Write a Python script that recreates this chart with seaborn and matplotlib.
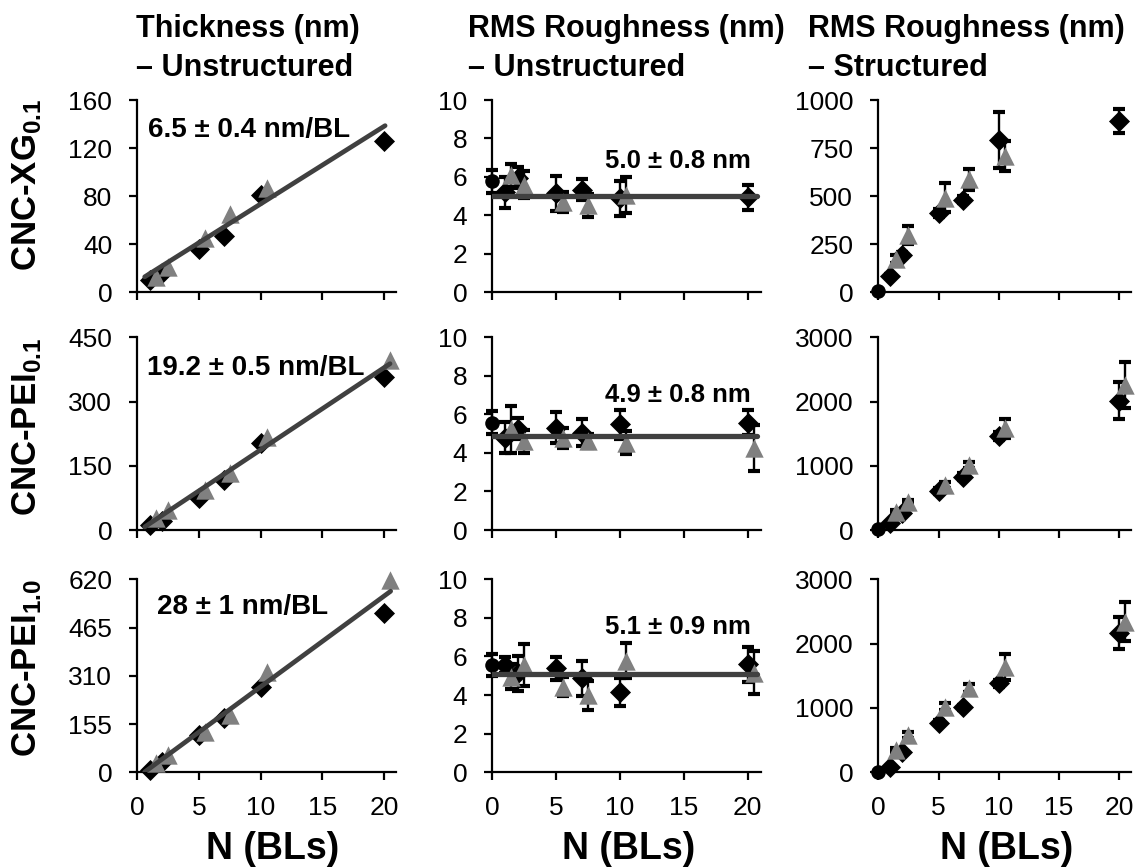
import numpy as np
import pandas as pd
import matplotlib
matplotlib.use("Agg")
import matplotlib.pyplot as plt
import seaborn as sns

# ---------------- data ----------------
N_dia = [1, 2, 5, 7, 10, 20]
N_tri = [1.5, 2.5, 5.5, 7.5, 10.5, 20.5]
N_zero = [0]

row_labels = [r"CNC-XG$_{\mathbf{0.1}}$", r"CNC-PEI$_{\mathbf{0.1}}$", r"CNC-PEI$_{\mathbf{1.0}}$"]
col_titles = [("Thickness (nm)", "\u2013 Unstructured"),
              ("RMS Roughness (nm)", "\u2013 Unstructured"),
              ("RMS Roughness (nm)", "\u2013 Structured")]
xlabel_text = "N (BLs)"
x_ticks = [0, 5, 10, 15, 20]

# thickness (unstructured)
xg_thick_dia = [10, 16, 36, 47, 81, 126]
xg_thick_tri = [13, 21, 45, 65, 87]
pei01_thick_dia = [12, 22, 74, 116, 202, 358]
pei01_thick_tri = [27, 47, 93, 132, 218, 396]
pei10_thick_dia = [8, 34, 120, 173, 275, 512]
pei10_thick_tri = [29, 55, 130, 184, 323, 619]
# linear fits: slope, intercept, N start, N end
xg_thick_fit = [6.45, 9.0, 0.6, 20.1]
pei01_thick_fit = [19.15, -4.2, 0.6, 20.5]
pei10_thick_fit = [29.1, -16.3, 0.6, 20.55]
thick_texts = ["6.5 \u00b1 0.4 nm/BL", "19.2 \u00b1 0.5 nm/BL", "28 \u00b1 1 nm/BL"]

# roughness (unstructured)
xg_rough_zero, xg_rough_zero_err = [5.78], [0.6]
xg_rough_dia = [5.19, 5.96, 5.15, 5.33, 4.88, 4.94]
xg_rough_dia_err = [0.8, 0.55, 0.9, 0.55, 0.9, 0.65]
xg_rough_tri = [6.09, 5.6, 4.7, 4.53, 5.06]
xg_rough_tri_err = [0.6, 0.7, 0.5, 0.6, 0.95]
pei01_rough_zero, pei01_rough_zero_err = [5.57], [0.6]
pei01_rough_dia = [4.78, 5.25, 5.3, 5.04, 5.48, 5.57]
pei01_rough_dia_err = [0.8, 0.55, 0.8, 0.7, 0.75, 0.65]
pei01_rough_tri = [5.22, 4.6, 4.78, 4.61, 4.52, 4.26]
pei01_rough_tri_err = [1.2, 0.6, 0.5, 0.35, 0.6, 1.2]
pei10_rough_zero, pei10_rough_zero_err = [5.56], [0.55]
pei10_rough_dia = [5.56, 5.13, 5.39, 4.87, 4.18, 5.6]
pei10_rough_dia_err = [0.4, 0.9, 0.6, 0.9, 0.72, 0.9]
pei10_rough_tri = [4.95, 5.56, 4.44, 4.0, 5.78, 5.16]
pei10_rough_tri_err = [0.65, 1.1, 0.5, 0.75, 0.9, 1.1]
rough_means = [5.0, 4.9, 5.1]
rough_mean_span = [0.0, 20.7]
rough_texts = ["5.0 \u00b1 0.8 nm", "4.9 \u00b1 0.8 nm", "5.1 \u00b1 0.9 nm"]

# roughness (structured)
xg_struct_zero, xg_struct_zero_err = [5], [0]
xg_struct_dia = [85, 195, 413, 482, 792, 889]
xg_struct_dia_err = [10, 15, 20, 20, 145, 62]
xg_struct_tri = [172, 300, 491, 587, 709]
xg_struct_tri_err = [20, 47, 75, 56, 80]
pei01_struct_zero, pei01_struct_zero_err = [10], [0]
pei01_struct_dia = [104, 260, 607, 830, 1464, 2014]
pei01_struct_dia_err = [20, 30, 40, 50, 60, 290]
pei01_struct_tri = [285, 441, 700, 1012, 1583, 2258]
pei01_struct_tri_err = [30, 30, 40, 50, 150, 360]
pei10_struct_zero, pei10_struct_zero_err = [10], [0]
pei10_struct_dia = [78, 320, 771, 1010, 1383, 2160]
pei10_struct_dia_err = [20, 30, 40, 40, 50, 250]
pei10_struct_tri = [347, 580, 1020, 1306, 1642, 2341]
pei10_struct_tri_err = [30, 40, 50, 60, 200, 300]

y_ticks = [
    [[0, 40, 80, 120, 160], [0, 2, 4, 6, 8, 10], [0, 250, 500, 750, 1000]],
    [[0, 150, 300, 450], [0, 2, 4, 6, 8, 10], [0, 1000, 2000, 3000]],
    [[0, 155, 310, 465, 620], [0, 2, 4, 6, 8, 10], [0, 1000, 2000, 3000]],
]

# ---------------- style ----------------
sns.set_theme(style="ticks")
plt.rcParams["font.family"] = ["Liberation Sans", "DejaVu Sans"]
plt.rcParams["mathtext.fontset"] = "custom"
plt.rcParams["mathtext.rm"] = "Liberation Sans"
plt.rcParams["mathtext.bf"] = "Liberation Sans:bold"
plt.rcParams["mathtext.it"] = "Liberation Sans:italic"

BLACK = "#000000"
GRAY = "#808080"
LINE = "#404040"
W, H = 1140, 867

fig = plt.figure(figsize=(W / 100, H / 100), dpi=100)

col_px = [(137.3, 258.9), (492.3, 268.2), (878.3, 253.0)]
row_px = [(100.0, 292.3), (337.3, 530.0), (579.3, 772.3)]

axes = [[None] * 3 for _ in range(3)]
for r, (top, bot) in enumerate(row_px):
    for c, (left, width) in enumerate(col_px):
        ax = fig.add_axes([left / W, 1 - bot / H, width / W, (bot - top) / H])
        axes[r][c] = ax


def style_axis(ax, yt, show_xlabels):
    sns.despine(ax=ax)
    ax.set_xlim(0, 21)
    ax.set_ylim(yt[0], yt[-1])
    ax.set_xticks(x_ticks)
    ax.set_yticks(yt)
    for s in ("left", "bottom"):
        ax.spines[s].set_color("black")
        ax.spines[s].set_linewidth(1.6)
    ax.tick_params(axis="both", direction="out", length=6, width=1.6,
                   colors="black", labelsize=19)
    ax.tick_params(axis="y", pad=12)
    ax.tick_params(axis="x", pad=11, labelbottom=show_xlabels)
    ax.set_xlabel("")
    ax.set_ylabel("")
    ax.set_facecolor("white")


def scatter(ax, x, y, marker, color, size):
    sns.scatterplot(x=x, y=y, marker=marker, color=color, s=size, linewidth=0,
                    ax=ax, zorder=3, clip_on=False, legend=False)


def errbars(ax, x, y, e):
    ax.errorbar(x, y, yerr=e, fmt="none", ecolor="black", elinewidth=1.7,
                capsize=4, capthick=3.0, zorder=2, clip_on=False)


D_SIZE, T_SIZE, C_SIZE = 115, 175, 110

# ---- column 1: thickness ----
thick_dia = [xg_thick_dia, pei01_thick_dia, pei10_thick_dia]
thick_tri = [xg_thick_tri, pei01_thick_tri, pei10_thick_tri]
thick_fit = [xg_thick_fit, pei01_thick_fit, pei10_thick_fit]
for r in range(3):
    ax = axes[r][0]
    d = thick_dia[r]
    t = thick_tri[r]
    scatter(ax, N_dia[:len(d)], d, "D", BLACK, D_SIZE)
    scatter(ax, N_tri[:len(t)], t, "^", GRAY, T_SIZE)
    slope, icpt, n0, n1 = thick_fit[r]
    fit_df = pd.DataFrame({"N": [n0, n1], "y": [slope * n0 + icpt, slope * n1 + icpt]})
    sns.lineplot(data=fit_df, x="N", y="y", color=LINE, linewidth=3.4, ax=ax, zorder=4)
    style_axis(ax, y_ticks[r][0], r == 2)

thick_text_pos = [(0.89, 129), (0.76, 361), (1.57, 507)]
for r in range(3):
    x, y = thick_text_pos[r]
    axes[r][0].text(x, y, thick_texts[r], fontsize=20, fontweight="bold",
                    ha="left", va="baseline", color="black", zorder=5)

# ---- column 2: roughness unstructured ----
rough_zero = [(xg_rough_zero, xg_rough_zero_err), (pei01_rough_zero, pei01_rough_zero_err),
              (pei10_rough_zero, pei10_rough_zero_err)]
rough_dia = [(xg_rough_dia, xg_rough_dia_err), (pei01_rough_dia, pei01_rough_dia_err),
             (pei10_rough_dia, pei10_rough_dia_err)]
rough_tri = [(xg_rough_tri, xg_rough_tri_err), (pei01_rough_tri, pei01_rough_tri_err),
             (pei10_rough_tri, pei10_rough_tri_err)]
rough_text_y = [6.44, 6.64, 7.17]
for r in range(3):
    ax = axes[r][1]
    z, ze = rough_zero[r]
    d, de = rough_dia[r]
    t, te = rough_tri[r]
    errbars(ax, N_zero, z, ze)
    errbars(ax, N_dia[:len(d)], d, de)
    errbars(ax, N_tri[:len(t)], t, te)
    scatter(ax, N_zero, z, "o", BLACK, C_SIZE)
    scatter(ax, N_dia[:len(d)], d, "D", BLACK, D_SIZE)
    scatter(ax, N_tri[:len(t)], t, "^", GRAY, T_SIZE)
    mdf = pd.DataFrame({"N": rough_mean_span, "y": [rough_means[r]] * 2})
    sns.lineplot(data=mdf, x="N", y="y", color=LINE, linewidth=3.8, ax=ax, zorder=4)
    style_axis(ax, y_ticks[r][1], r == 2)
    ax.text(20.25, rough_text_y[r], rough_texts[r], fontsize=18.5, fontweight="bold",
            ha="right", va="baseline", color="black", zorder=5)

# ---- column 3: roughness structured ----
struct_zero = [(xg_struct_zero, xg_struct_zero_err), (pei01_struct_zero, pei01_struct_zero_err),
               (pei10_struct_zero, pei10_struct_zero_err)]
struct_dia = [(xg_struct_dia, xg_struct_dia_err), (pei01_struct_dia, pei01_struct_dia_err),
              (pei10_struct_dia, pei10_struct_dia_err)]
struct_tri = [(xg_struct_tri, xg_struct_tri_err), (pei01_struct_tri, pei01_struct_tri_err),
              (pei10_struct_tri, pei10_struct_tri_err)]
for r in range(3):
    ax = axes[r][2]
    z, ze = struct_zero[r]
    d, de = struct_dia[r]
    t, te = struct_tri[r]
    errbars(ax, N_dia[:len(d)], d, de)
    errbars(ax, N_tri[:len(t)], t, te)
    scatter(ax, N_zero, z, "o", BLACK, C_SIZE)
    scatter(ax, N_dia[:len(d)], d, "D", BLACK, D_SIZE)
    scatter(ax, N_tri[:len(t)], t, "^", GRAY, T_SIZE)
    style_axis(ax, y_ticks[r][2], r == 2)

# ---- column titles ----
title_left_px = [136, 468, 808]
for c, (l1, l2) in enumerate(col_titles):
    fig.text(title_left_px[c] / W, 1 - 37.5 / H, l1, fontsize=22, fontweight="bold",
             ha="left", va="baseline", color="black")
    fig.text(title_left_px[c] / W, 1 - 75.5 / H, l2, fontsize=22, fontweight="bold",
             ha="left", va="baseline", color="black")

# ---- row labels ----
row_center_px = [185, 427, 668]
for r in range(3):
    fig.text(27 / W, 1 - row_center_px[r] / H, row_labels[r], fontsize=25,
             fontweight="bold", rotation=90, ha="center", va="center", color="black")

# ---- x labels ----
xlabel_center_px = [273, 629, 1007]
for c in range(3):
    fig.text(xlabel_center_px[c] / W, 1 - 859 / H, xlabel_text, fontsize=27,
             fontweight="bold", ha="center", va="baseline", color="black")

fig.savefig("out.png", dpi=100, facecolor="white")
